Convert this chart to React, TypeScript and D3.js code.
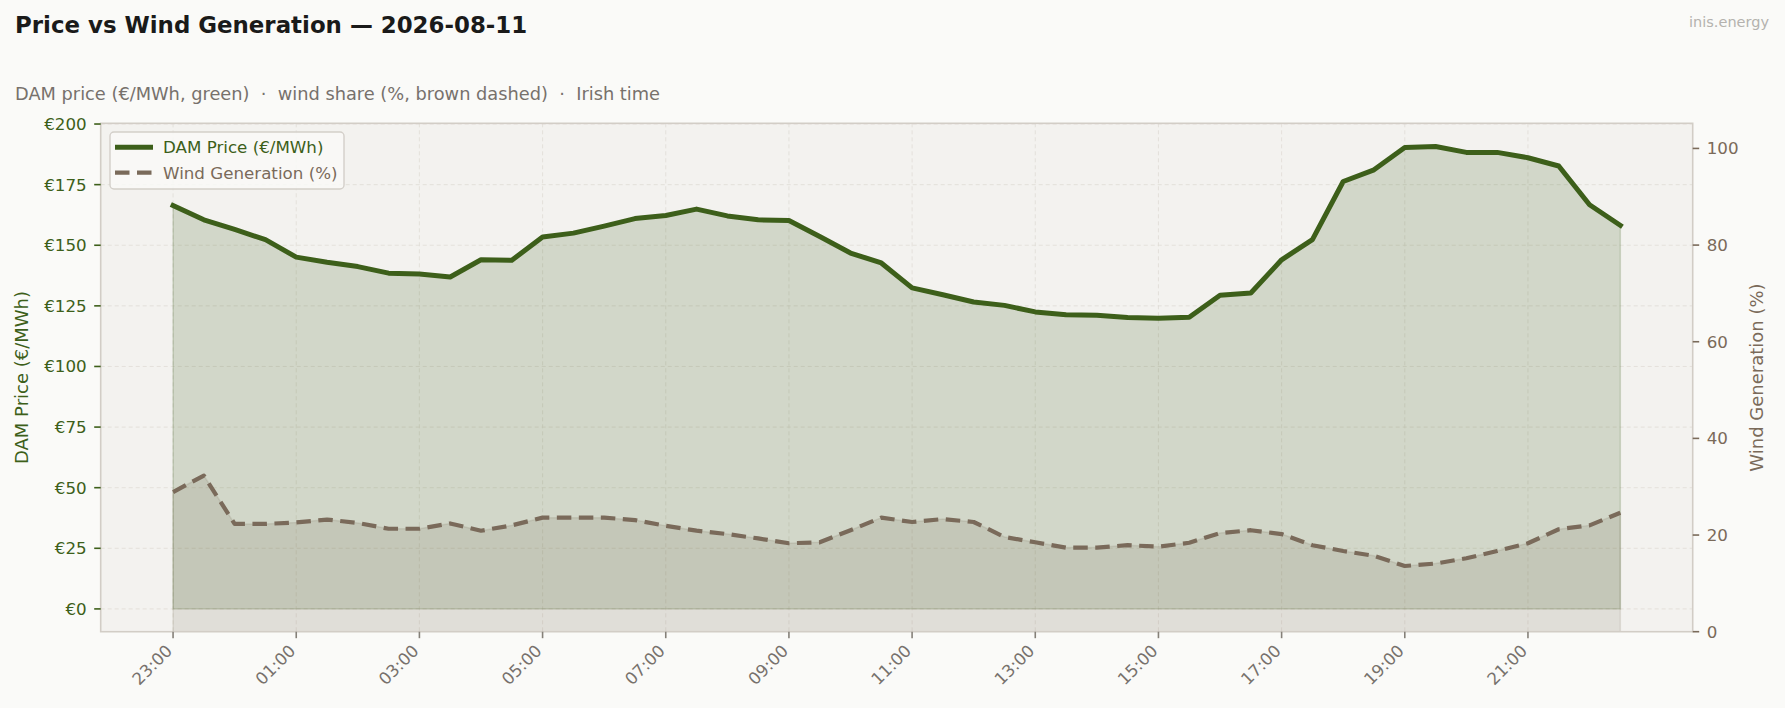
import * as d3 from "d3";
import { useEffect, useRef } from "react";

// Half-hourly slots (Irish time), 23:00 of the previous day to 22:30.
const SLOTS = [
  "23:00", "23:30", "00:00", "00:30", "01:00", "01:30", "02:00", "02:30",
  "03:00", "03:30", "04:00", "04:30", "05:00", "05:30", "06:00", "06:30",
  "07:00", "07:30", "08:00", "08:30", "09:00", "09:30", "10:00", "10:30",
  "11:00", "11:30", "12:00", "12:30", "13:00", "13:30", "14:00", "14:30",
  "15:00", "15:30", "16:00", "16:30", "17:00", "17:30", "18:00", "18:30",
  "19:00", "19:30", "20:00", "20:30", "21:00", "21:30", "22:00", "22:30",
];

// DAM price, €/MWh
const PRICE = [
  166.4, 160.5, 156.5, 152.3, 145.1, 143.0, 141.2, 138.5,
  138.1, 136.9, 144.0, 143.8, 153.4, 155.0, 157.9, 161.0,
  162.3, 164.9, 162.1, 160.5, 160.2, 153.6, 146.8, 142.7,
  132.4, 129.6, 126.6, 125.2, 122.5, 121.3, 121.1, 120.2,
  119.9, 120.3, 129.4, 130.3, 144.0, 152.3, 176.3, 181.1,
  190.3, 190.7, 188.3, 188.3, 186.1, 182.7, 166.7, 158.2,
];

// Wind share of generation, %
const WIND = [
  28.9, 32.3, 22.3, 22.3, 22.6, 23.2, 22.5, 21.3,
  21.3, 22.4, 20.9, 22.0, 23.6, 23.6, 23.6, 23.1,
  21.9, 20.9, 20.2, 19.3, 18.3, 18.5, 21.0, 23.6,
  22.7, 23.3, 22.7, 19.6, 18.5, 17.4, 17.4, 17.9,
  17.6, 18.4, 20.4, 21.0, 20.2, 17.9, 16.7, 15.7,
  13.6, 14.1, 15.2, 16.7, 18.3, 21.2, 22.0, 24.6,
];

const X_TICKS = [
  "23:00", "01:00", "03:00", "05:00", "07:00", "09:00",
  "11:00", "13:00", "15:00", "17:00", "19:00", "21:00",
];
const PRICE_TICKS = [0, 25, 50, 75, 100, 125, 150, 175, 200];
const WIND_TICKS = [0, 20, 40, 60, 80, 100];

const W = 1785;
const H = 708;
const FONT = "DejaVu Sans, sans-serif";
const GREEN = "#3d5f1a";
const BROWN = "#7a6a5a";
const GREY = "#77716c";
const FRAME = "#d2cdc6";
const DASH = "14.5,7.5";

// hours after 23:00
function slotHours(s: string): number {
  const [h, m] = s.split(":").map(Number);
  return ((h - 23 + 24) % 24) + m / 60;
}

function Chart() {
  const svgRef = useRef<SVGSVGElement>(null);

  useEffect(() => {
    if (!svgRef.current) return;
    const svg = d3.select(svgRef.current);
    svg.selectAll("*").remove();

    const left = 100.7, right = 1692.7, top = 123.3, bottom = 631.7;

    const span = slotHours(SLOTS[SLOTS.length - 1]);
    const x = d3.scaleLinear()
      .domain([-span * 0.05, span * 1.05])
      .range([left, right]);
    const yP = d3.scaleLinear().domain([-9.4, 200.3]).range([bottom, top]);
    const yW = d3.scaleLinear().domain([0, 105.2]).range([bottom, top]);

    // figure background
    svg.append("rect").attr("width", W).attr("height", H).attr("fill", "#fafaf8");

    // header
    svg.append("text")
      .attr("x", 15).attr("y", 33)
      .attr("font-family", FONT).attr("font-size", 22.9).attr("font-weight", 700)
      .attr("fill", "#1a1a1a")
      .text("Price vs Wind Generation — 2026-08-11");
    svg.append("text")
      .attr("x", 15).attr("y", 100)
      .attr("font-family", FONT).attr("font-size", 17.8)
      .attr("fill", GREY)
      .attr("xml:space", "preserve")
      .style("white-space", "pre")
      .text("DAM price (€/MWh, green)  ·  wind share (%, brown dashed)  ·  Irish time");
    svg.append("text")
      .attr("x", 1769).attr("y", 27)
      .attr("text-anchor", "end")
      .attr("font-family", FONT).attr("font-size", 14.5)
      .attr("fill", "#b4b2ae")
      .text("inis.energy");

    // plot background
    svg.append("rect")
      .attr("x", left).attr("y", top)
      .attr("width", right - left).attr("height", bottom - top)
      .attr("fill", "#f3f2ef");

    const clip = svg.append("defs").append("clipPath").attr("id", "plot-clip");
    clip.append("rect")
      .attr("x", left).attr("y", top)
      .attr("width", right - left).attr("height", bottom - top);

    const plot = svg.append("g").attr("clip-path", "url(#plot-clip)");

    // grid
    const grid = plot.append("g")
      .attr("stroke", "#dfdcd6").attr("stroke-width", 0.8)
      .attr("stroke-dasharray", "4,3");
    X_TICKS.forEach((t) => {
      const gx = x(slotHours(t));
      grid.append("line").attr("x1", gx).attr("x2", gx).attr("y1", top).attr("y2", bottom);
    });
    PRICE_TICKS.forEach((t) => {
      grid.append("line").attr("x1", left).attr("x2", right).attr("y1", yP(t)).attr("y2", yP(t));
    });

    const hrs = SLOTS.map(slotHours);

    // price area (to €0)
    const priceArea = d3.area<number>()
      .x((_, i) => x(hrs[i]))
      .y0(yP(0))
      .y1((d) => yP(d));
    plot.append("path")
      .attr("d", priceArea(PRICE))
      .attr("fill", GREEN).attr("fill-opacity", 0.18)
      .attr("stroke", GREEN).attr("stroke-opacity", 0.18).attr("stroke-width", 1.5);

    // wind area (to 0 %)
    const windArea = d3.area<number>()
      .x((_, i) => x(hrs[i]))
      .y0(yW(0))
      .y1((d) => yW(d));
    plot.append("path")
      .attr("d", windArea(WIND))
      .attr("fill", BROWN).attr("fill-opacity", 0.15)
      .attr("stroke", BROWN).attr("stroke-opacity", 0.15).attr("stroke-width", 1.5);

    // lines
    const priceLine = d3.line<number>().x((_, i) => x(hrs[i])).y((d) => yP(d));
    plot.append("path")
      .attr("d", priceLine(PRICE))
      .attr("fill", "none").attr("stroke", GREEN)
      .attr("stroke-width", 5).attr("stroke-linejoin", "round").attr("stroke-linecap", "square");

    const windLine = d3.line<number>().x((_, i) => x(hrs[i])).y((d) => yW(d));
    plot.append("path")
      .attr("d", windLine(WIND))
      .attr("fill", "none").attr("stroke", BROWN)
      .attr("stroke-width", 4.2).attr("stroke-dasharray", DASH)
      .attr("stroke-linejoin", "round");

    // frame
    svg.append("rect")
      .attr("x", left).attr("y", top)
      .attr("width", right - left).attr("height", bottom - top)
      .attr("fill", "none").attr("stroke", FRAME).attr("stroke-width", 1.6);

    // left axis (price)
    PRICE_TICKS.forEach((t) => {
      const ty = yP(t);
      svg.append("line")
        .attr("x1", left - 6.5).attr("x2", left).attr("y1", ty).attr("y2", ty)
        .attr("stroke", GREEN).attr("stroke-width", 1.6);
      svg.append("text")
        .attr("x", left - 14).attr("y", ty).attr("dy", "0.36em")
        .attr("text-anchor", "end")
        .attr("font-family", FONT).attr("font-size", 16.7)
        .attr("fill", GREEN)
        .text(`€${t}`);
    });
    svg.append("text")
      .attr("transform", `translate(28,${(top + bottom) / 2}) rotate(-90)`)
      .attr("text-anchor", "middle")
      .attr("font-family", FONT).attr("font-size", 18)
      .attr("fill", GREEN)
      .text("DAM Price (€/MWh)");

    // right axis (wind)
    WIND_TICKS.forEach((t) => {
      const ty = yW(t);
      svg.append("line")
        .attr("x1", right).attr("x2", right + 6.5).attr("y1", ty).attr("y2", ty)
        .attr("stroke", BROWN).attr("stroke-width", 1.6);
      svg.append("text")
        .attr("x", right + 14).attr("y", ty).attr("dy", "0.36em")
        .attr("font-family", FONT).attr("font-size", 16.7)
        .attr("fill", BROWN)
        .text(t);
    });
    svg.append("text")
      .attr("transform", `translate(1763,${(top + bottom) / 2}) rotate(-90)`)
      .attr("text-anchor", "middle")
      .attr("font-family", FONT).attr("font-size", 18)
      .attr("fill", BROWN)
      .text("Wind Generation (%)");

    // x axis
    X_TICKS.forEach((t) => {
      const tx = x(slotHours(t));
      svg.append("line")
        .attr("x1", tx).attr("x2", tx).attr("y1", bottom).attr("y2", bottom + 6.5)
        .attr("stroke", "#858079").attr("stroke-width", 1.6);
      svg.append("text")
        .attr("transform", `translate(${tx - 8},${bottom + 12}) rotate(-45)`)
        .attr("text-anchor", "end")
        .attr("dy", "0.7em")
        .attr("font-family", FONT).attr("font-size", 16.7)
        .attr("fill", GREY)
        .text(t);
    });

    // legend
    const lg = svg.append("g");
    lg.append("rect")
      .attr("x", 110).attr("y", 132).attr("width", 234).attr("height", 57)
      .attr("rx", 4)
      .attr("fill", "#f9f9f7").attr("fill-opacity", 0.85)
      .attr("stroke", "#d3cfc9").attr("stroke-width", 1.4);
    const items = [
      { label: "DAM Price (€/MWh)", color: GREEN, dash: null as string | null, w: 5 },
      { label: "Wind Generation (%)", color: BROWN, dash: DASH, w: 4.2 },
    ];
    items.forEach((it, i) => {
      const ly = 147.3 + i * 25.4;
      lg.append("line")
        .attr("x1", 115).attr("x2", 153).attr("y1", ly).attr("y2", ly)
        .attr("stroke", it.color).attr("stroke-width", it.w)
        .attr("stroke-dasharray", it.dash);
      lg.append("text")
        .attr("x", 163).attr("y", ly).attr("dy", "0.36em")
        .attr("font-family", FONT).attr("font-size", 16.7)
        .attr("fill", it.color)
        .text(it.label);
    });
  }, []);

  return <svg ref={svgRef} width={W} height={H} style={{ display: "block" }} />;
}

export default function App() {
  useEffect(() => {
    document.body.style.margin = "0";
    document.body.style.background = "#fafaf8";
  }, []);
  return <Chart />;
}
